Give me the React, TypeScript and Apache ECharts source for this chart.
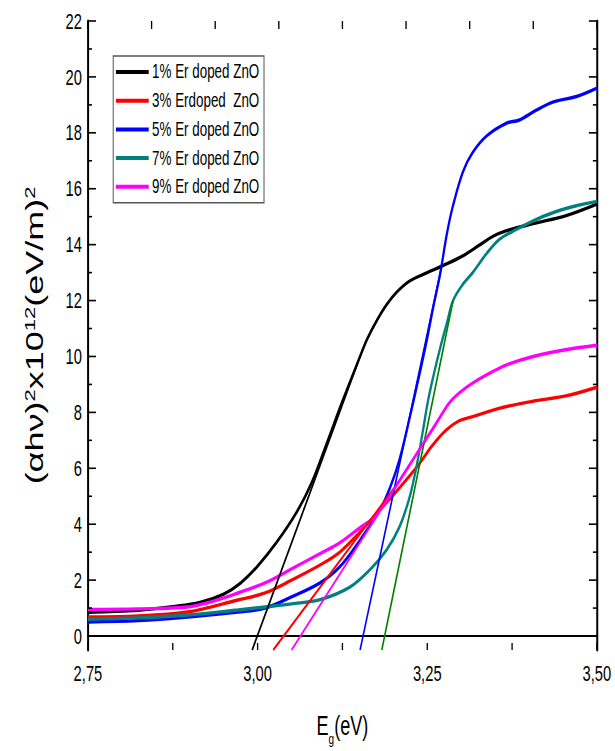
import React, { useEffect, useRef } from "react";
import * as echarts from "echarts";

// ---- data ----
const seriesNames = [
  "1% Er doped ZnO",
  "3% Erdoped  ZnO",
  "5% Er doped ZnO",
  "7% Er doped ZnO",
  "9% Er doped ZnO",
];
const seriesColors = ["#000000", "#ff0000", "#0000ff", "#008080", "#ff00ff"];

const e1 = [2.75, 2.824, 2.875, 2.915, 2.95, 2.975, 3.0, 3.028, 3.058, 3.08, 3.102, 3.125, 3.151, 3.161, 3.176, 3.19, 3.205, 3.224, 3.25, 3.273, 3.3025, 3.328, 3.347, 3.367, 3.406, 3.456, 3.5];
const v1 = [0.85, 0.92, 1.05, 1.2, 1.5, 1.9, 2.5, 3.35, 4.45, 5.5, 6.9, 8.4, 10.0, 10.6, 11.3, 11.85, 12.3, 12.7, 13.0, 13.25, 13.6, 14.0, 14.3, 14.5, 14.75, 15.05, 15.45];

const e3 = [2.75, 2.824, 2.897, 2.971, 3.011, 3.05, 3.092, 3.121, 3.15, 3.18, 3.209, 3.238, 3.257, 3.278, 3.297, 3.317, 3.357, 3.406, 3.456, 3.5];
const v3 = [0.68, 0.72, 0.86, 1.29, 1.54, 2.0, 2.54, 3.0, 3.7, 4.5, 5.3, 6.15, 6.8, 7.37, 7.7, 7.85, 8.15, 8.4, 8.6, 8.9];

const e5 = [2.75, 2.824, 2.897, 2.971, 3.011, 3.05, 3.092, 3.121, 3.151, 3.18, 3.195, 3.209, 3.224, 3.238, 3.2495, 3.2583, 3.2686, 3.279, 3.288, 3.3025, 3.317, 3.338, 3.367, 3.385, 3.41, 3.435, 3.47, 3.5];
const v5 = [0.5, 0.55, 0.68, 0.86, 1.0, 1.4, 1.9, 2.47, 3.43, 4.5, 5.3, 6.3, 7.8, 9.3, 10.6, 11.7, 12.9, 14.4, 15.4, 16.6, 17.3, 17.9, 18.35, 18.45, 18.8, 19.1, 19.3, 19.6];

const e7 = [2.75, 2.824, 2.897, 2.971, 3.011, 3.05, 3.092, 3.136, 3.165, 3.19, 3.209, 3.224, 3.234, 3.243, 3.251, 3.26, 3.269, 3.279, 3.288, 3.303, 3.317, 3.338, 3.357, 3.382, 3.406, 3.436, 3.471, 3.5];
const v7 = [0.6, 0.65, 0.75, 0.93, 1.04, 1.15, 1.3, 1.75, 2.36, 3.08, 3.9, 4.97, 6.05, 7.26, 8.4, 9.4, 10.3, 11.2, 12.0, 12.6, 13.0, 13.7, 14.2, 14.55, 14.85, 15.15, 15.4, 15.55];

const e9 = [2.75, 2.824, 2.897, 2.935, 2.971, 3.011, 3.05, 3.092, 3.121, 3.15, 3.175, 3.205, 3.234, 3.258, 3.283, 3.3, 3.317, 3.338, 3.367, 3.406, 3.456, 3.5];
const v9 = [0.95, 0.97, 1.04, 1.25, 1.54, 1.9, 2.4, 2.95, 3.33, 3.86, 4.33, 5.4, 6.5, 7.4, 8.35, 8.75, 9.05, 9.35, 9.7, 10.0, 10.25, 10.4];

// tangent (Tauc extrapolation) lines: start at the axis bottom, end on the curve
const tangentStartE = [2.992, 3.023, 3.151, 3.183, 3.05];
const tangentStartV = [-0.5, -0.5, -0.5, -0.5, -0.5];
const tangentEndE = [3.151, 3.2, 3.27, 3.288, 3.282];
const tangentEndV = [10.0, 5.25, 13.1, 12.0, 8.35];
const tangentColors = ["#000000", "#ff0000", "#0000ff", "#008000", "#ff00ff"];

// tick positions (in data units)
const xMajorTicks = [2.75, 3.0, 3.25, 3.5];
const xMinorTicks = [2.875, 3.125, 3.375];
const topTicks = [0, 1, 2, 3, 4, 5, 6, 7, 8];
const yMajorTicks = [0, 2, 4, 6, 8, 10, 12, 14, 16, 18, 20, 22];
const yMinorTicks = [1, 3, 5, 7, 9, 11, 13, 15, 17, 19, 21];

const X_MIN = 2.75;
const X_MAX = 3.5;
const Y_MIN = -0.5;
const Y_MAX = 22;

const W = 918;
const H = 751;
const SQUEEZE = 615 / W;
const FONT = '"Liberation Sans", Arial, sans-serif';

const energies = [e1, e3, e5, e7, e9];
const values = [v1, v3, v5, v7, v9];

// tick kinds: 0 bottom major, 1 bottom minor, 2 left major, 3 left minor, 4 right major, 5 right minor
const tickData: number[][] = [
  ...xMajorTicks.map((v) => [0, v]),
  ...xMinorTicks.map((v) => [1, v]),
  ...yMajorTicks.map((v) => [2, v]),
  ...yMinorTicks.map((v) => [3, v]),
  ...yMajorTicks.map((v) => [4, v]),
  ...yMinorTicks.map((v) => [5, v]),
];

export default function App() {
  const ref = useRef<HTMLDivElement>(null);
  useEffect(() => {
    if (!ref.current) return;
    const chart = echarts.init(ref.current, undefined, { renderer: "svg", width: W, height: H });

    const curveSeries = seriesNames.map((name, i) => ({
      name,
      type: "line",
      data: energies[i].map((e, k) => [e, values[i][k]]),
      showSymbol: false,
      symbol: "none",
      smooth: 0.35,
      lineStyle: { color: seriesColors[i], width: 3.4 },
      itemStyle: { color: seriesColors[i] },
      z: 3,
    }));

    const tangentSeries = tangentStartE.map((e, i) => ({
      name: "tangent" + i,
      type: "line",
      data: [
        [e, tangentStartV[i]],
        [tangentEndE[i], tangentEndV[i]],
      ],
      showSymbol: false,
      symbol: "none",
      lineStyle: { color: tangentColors[i], width: 2.4 },
      itemStyle: { color: tangentColors[i] },
      z: 4,
    }));

    const tickSeries = {
      name: "ticks",
      type: "custom",
      xAxisIndex: 0,
      yAxisIndex: 0,
      clip: false,
      silent: true,
      z: 6,
      data: tickData,
      renderItem: (_params: any, api: any) => {
        const kind = api.value(0);
        const v = api.value(1);
        let p: number[];
        let q: number[];
        let w = 1.6;
        if (kind === 0 || kind === 1) {
          p = api.coord([v, Y_MIN]);
          q = [p[0], p[1] - 7];
          w = 2;
        } else if (kind === 2 || kind === 3) {
          p = api.coord([X_MIN, v]);
          q = [p[0] + (kind === 2 ? 12 : 6), p[1]];
        } else {
          p = api.coord([X_MAX, v]);
          q = [p[0] - (kind === 4 ? 12 : 6), p[1]];
        }
        return {
          type: "line",
          shape: { x1: p[0], y1: p[1], x2: q[0], y2: q[1] },
          style: { stroke: "#000", lineWidth: w },
        };
      },
    };

    const topTickSeries = {
      name: "topTicks",
      type: "custom",
      xAxisIndex: 1,
      yAxisIndex: 0,
      clip: false,
      silent: true,
      z: 6,
      data: topTicks.map((v) => [v]),
      renderItem: (_params: any, api: any) => {
        const p = api.coord([api.value(0), Y_MAX]);
        return {
          type: "line",
          shape: { x1: p[0], y1: p[1], x2: p[0], y2: p[1] + 8 },
          style: { stroke: "#000", lineWidth: 2 },
        };
      },
    };

    chart.setOption({
      animation: false,
      backgroundColor: "#ffffff",
      grid: { left: 131.3, right: 27, top: 21, bottom: 101 },
      legend: {
        data: seriesNames,
        orient: "vertical",
        left: 169,
        top: 56,
        icon: "rect",
        itemWidth: 49,
        itemHeight: 4,
        itemGap: 8.7,
        padding: [6, 7, 6, 4],
        borderColor: "#555555",
        borderWidth: 1.5,
        backgroundColor: "#ffffff",
        textStyle: { fontSize: 20, lineHeight: 20, color: "#000", fontFamily: FONT },
      },
      xAxis: [
        {
          type: "value",
          min: X_MIN,
          max: X_MAX,
          interval: 0.25,
          position: "bottom",
          axisLine: { show: true, lineStyle: { color: "#000", width: 2 } },
          axisTick: { show: false },
          splitLine: { show: false },
          axisLabel: {
            fontSize: 22,
            color: "#000",
            fontFamily: FONT,
            margin: 12,
            formatter: (v: number) => v.toFixed(2).replace(".", ","),
          },
          name: "{a|E}{b|g}{a|(eV)}",
          nameLocation: "middle",
          nameGap: 62,
          nameTextStyle: {
            fontFamily: FONT,
            color: "#000",
            rich: {
              a: { fontSize: 27, lineHeight: 30, verticalAlign: "top", fontFamily: FONT, color: "#000" },
              b: { fontSize: 15, lineHeight: 15, padding: [19, 0, 0, 0], verticalAlign: "top", fontFamily: FONT, color: "#000" },
            },
          },
        },
        {
          type: "value",
          min: 0,
          max: 8,
          interval: 1,
          position: "top",
          axisLine: { show: true, lineStyle: { color: "#000", width: 2 } },
          axisTick: { show: false },
          axisLabel: { show: false },
          splitLine: { show: false },
        },
      ],
      yAxis: [
        {
          type: "value",
          min: Y_MIN,
          max: Y_MAX,
          position: "left",
          splitLine: { show: false },
          axisLine: { show: true, lineStyle: { color: "#000", width: 3 } },
          axisTick: { show: false },
          axisLabel: { show: true, customValues: yMajorTicks, fontSize: 22, color: "#000", fontFamily: FONT, margin: 9 },
          name: "{a|(αhν)}{s|2}{a|x10}{s|12}{a|(eV/m)}{s|2}",
          nameLocation: "middle",
          nameRotate: 90,
          nameGap: 58,
          nameTextStyle: {
            fontFamily: FONT,
            color: "#000",
            rich: {
              a: { fontSize: 36, lineHeight: 40, verticalAlign: "top", fontFamily: FONT, color: "#000" },
              s: { fontSize: 22, lineHeight: 22, verticalAlign: "top", fontFamily: FONT, color: "#000" },
            },
          },
        },
        {
          type: "value",
          min: Y_MIN,
          max: Y_MAX,
          position: "right",
          splitLine: { show: false },
          axisLine: { show: true, lineStyle: { color: "#000", width: 3 } },
          axisTick: { show: false },
          axisLabel: { show: false },
        },
      ],
      series: [...curveSeries, ...tangentSeries, tickSeries, topTickSeries],
    });

    return () => chart.dispose();
  }, []);

  return (
    <div
      ref={ref}
      style={{
        width: W,
        height: H,
        position: "fixed",
        left: 0,
        top: 0,
        transform: `scaleX(${SQUEEZE})`,
        transformOrigin: "0 0",
        background: "#fff",
      }}
    />
  );
}
